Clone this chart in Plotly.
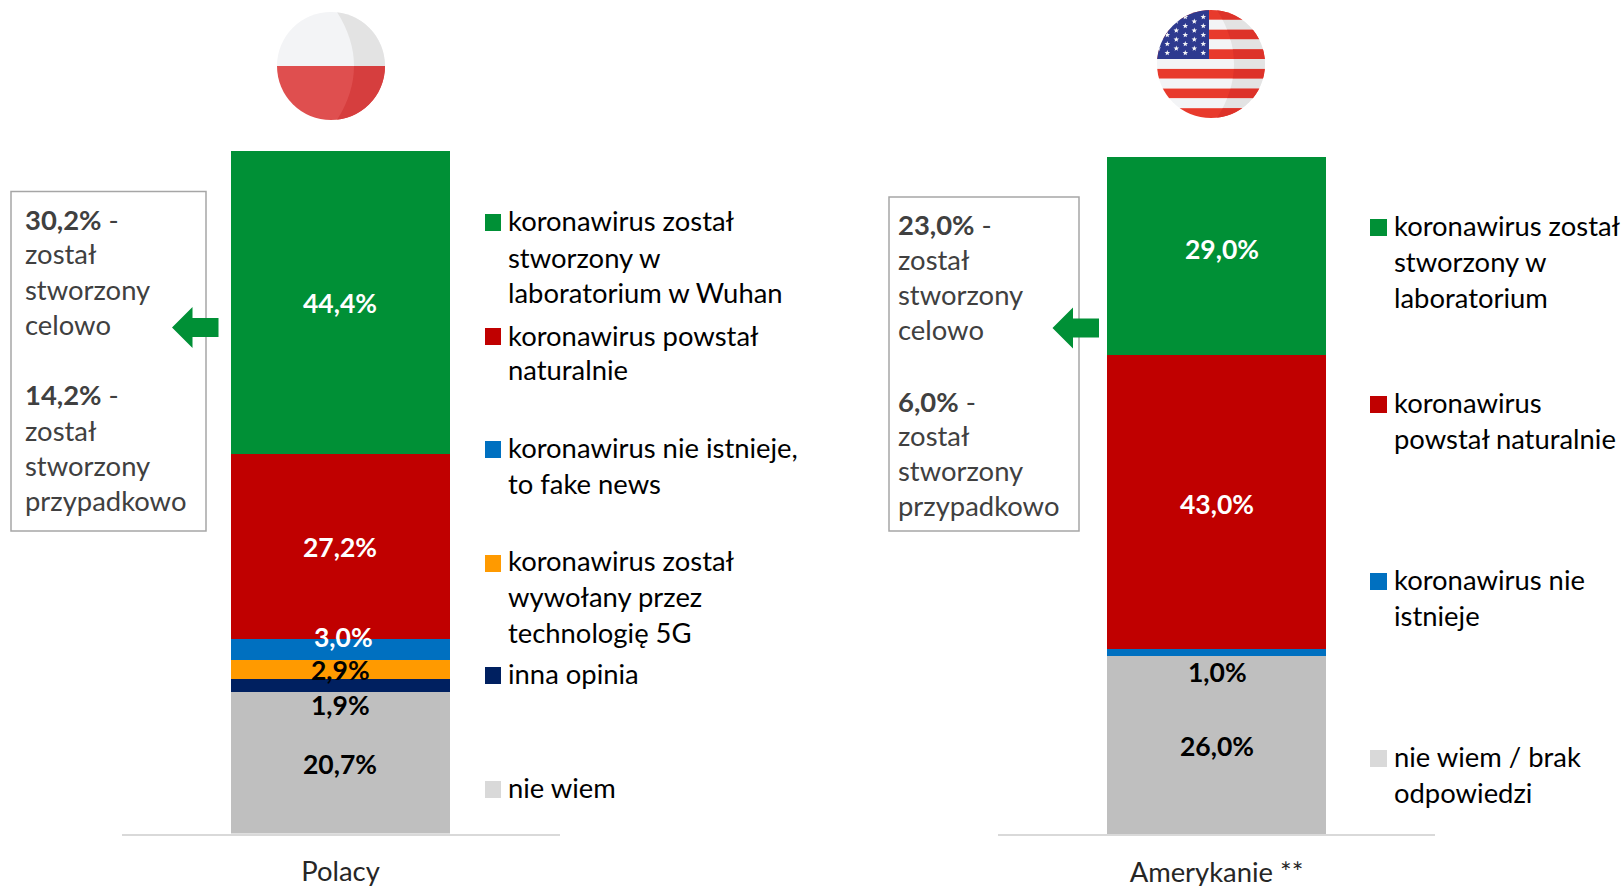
import base64
import math
import plotly.graph_objects as go

W, H = 1623, 886

SERIES_NAMES = ["koronawirus stworzony", "koronawirus naturalny", "koronawirus nie istnieje",
                "technologia 5G", "inna opinia", "nie wiem"]
COLORS = ["#009036", "#C00000", "#0070C0", "#FF9A00", "#002060", "#BFBFBF"]
POLACY = [44.4, 27.2, 3.0, 2.9, 1.9, 20.7]
AMERYKANIE = [29.0, 43.0, 1.0, None, None, 26.0]
CATEGORIES = ["Polacy", "Amerykanie **"]

FONT = "Lato"
LEG_SIZE = 27.4
LAB_SIZE = 26.5
TEXT_LIFT = 1.5


def px(x):
    return x / W


def py(y):
    return 1 - y / H


def fmt(v):
    return f"{v:.1f}".replace(".", ",") + "%"


fig = go.Figure()
for vals, cat, xa, ya in ((POLACY, CATEGORIES[0], "x", "y"), (AMERYKANIE, CATEGORIES[1], "x2", "y2")):
    for i in range(len(vals) - 1, -1, -1):
        if vals[i] is None:
            continue
        fig.add_bar(x=[cat], y=[vals[i]], name=SERIES_NAMES[i], marker=dict(color=COLORS[i], line_width=0),
                    xaxis=xa, yaxis=ya, showlegend=False)

annotations = []


def label(text, x, y, size=LEG_SIZE, color="#000000", bold=False, anchor="left"):
    annotations.append(dict(text=f"<b>{text}</b>" if bold else text, x=px(x), y=py(y - TEXT_LIFT), xref="paper", yref="paper",
                            xanchor=anchor, yanchor="middle", showarrow=False,
                            font=dict(family=FONT, size=size, color=color)))


# data labels (offset like the reference)
LAB_POS_L = [(340, 304), (340, 548), (343, 638), (340, 671), (340, 706), (340, 765)]
LAB_COL_L = ["#FFFFFF", "#FFFFFF", "#FFFFFF", "#000000", "#000000", "#000000"]
for v, (x, y), c in zip(POLACY, LAB_POS_L, LAB_COL_L):
    label(fmt(v), x, y, LAB_SIZE, c, True, "center")
LAB_R = [(29.0, 1222, 250, "#FFFFFF"), (43.0, 1217, 505.5, "#FFFFFF"), (1.0, 1217, 673, "#000000"), (26.0, 1217, 747, "#000000")]
for v, x, y, c in LAB_R:
    label(fmt(v), x, y, LAB_SIZE, c, True, "center")

# legends
LEG_L = [
    ("#009036", 214, ["koronawirus został", "stworzony w", "laboratorium w Wuhan"], [222.5, 258.5, 294]),
    ("#C00000", 328, ["koronawirus powstał", "naturalnie"], [336.5, 370.5]),
    ("#0070C0", 441, ["koronawirus nie istnieje,", "to fake news"], [449, 485]),
    ("#FF9A00", 555, ["koronawirus został", "wywołany przez", "technologię 5G"], [562, 598, 633.5]),
    ("#002060", 667, ["inna opinia"], [675]),
    ("#D9D9D9", 781, ["nie wiem"], [789]),
]
LEG_R = [
    ("#009036", 219, ["koronawirus został", "stworzony w", "laboratorium"], [227, 263, 299]),
    ("#C00000", 396, ["koronawirus", "powstał naturalnie"], [404, 440]),
    ("#0070C0", 573, ["koronawirus nie", "istnieje"], [581, 617]),
    ("#D9D9D9", 750, ["nie wiem / brak", "odpowiedzi"], [758, 794]),
]
shapes = []


def rect(x0, y0, x1, y1, fill=None, line=None, lw=0):
    shapes.append(dict(type="rect", xref="paper", yref="paper", x0=px(x0), x1=px(x1), y0=py(y0), y1=py(y1),
                       fillcolor=fill or "rgba(0,0,0,0)", line=dict(color=line or "rgba(0,0,0,0)", width=lw), layer="above"))


for leg, sx0, sx1, tx in ((LEG_L, 485, 501, 505.5), (LEG_R, 1370, 1387, 1392)):
    for col, sy, lines, ys in leg:
        rect(sx0, sy, sx1, sy + 17, col)
        for t, y in zip(lines, ys):
            label(t, tx, y)

# callout boxes
rect(11, 191.5, 206, 531, "#FFFFFF", "#A6A6A6", 1.5)
rect(889, 197, 1079, 531, "#FFFFFF", "#A6A6A6", 1.5)
BOX_TEXT_L = [("<b>30,2%</b> -", 220.5), ("został", 255.5), ("stworzony", 291), ("celowo", 326),
              ("<b>14,2%</b> -", 396.5), ("został", 431.5), ("stworzony", 467), ("przypadkowo", 502)]
BOX_TEXT_R = [("<b>23,0%</b> -", 225.5), ("został", 261), ("stworzony", 296), ("celowo", 331),
              ("<b>6,0%</b> -", 402.5), ("został", 437), ("stworzony", 472), ("przypadkowo", 507)]
for t, y in BOX_TEXT_L:
    label(t, 23, y, color="#404040")
for t, y in BOX_TEXT_R:
    label(t, 896, y, color="#404040")


# arrows
def arrow(tip, back, end, cy):
    pts = [(tip, cy), (back, cy - 20.5), (back, cy - 9.5), (end, cy - 9.5), (end, cy + 9.5), (back, cy + 9.5), (back, cy + 20.5)]
    path = "M" + " L".join(f"{px(a):.5f},{py(b):.5f}" for a, b in pts) + " Z"
    shapes.append(dict(type="path", path=path, xref="paper", yref="paper", fillcolor="#009036", line_width=0, layer="above"))


arrow(172, 192.5, 218.5, 327.5)
arrow(1052.5, 1073, 1099, 328)


# flags as inline SVG images
def star(cx, cy, r):
    pts = []
    for k in range(10):
        rr = r if k % 2 == 0 else r * 0.42
        a = -math.pi / 2 + k * math.pi / 5
        pts.append(f"{cx + rr * math.cos(a):.2f},{cy + rr * math.sin(a):.2f}")
    return f'<polygon points="{" ".join(pts)}" fill="#F3F4F6"/>'


CRESCENT = "M60 0 Q77 27 77 54 Q77 81 60 108 L108 108 L108 0 Z"
DEFS = ('<defs><clipPath id="c"><circle cx="54" cy="54" r="54"/></clipPath>'
        f'<clipPath id="s"><path d="{CRESCENT}"/></clipPath></defs>')

poland = ('<svg xmlns="http://www.w3.org/2000/svg" width="108" height="108" viewBox="0 0 108 108">'
          + DEFS + '<g clip-path="url(#c)">'
          '<rect width="108" height="54" fill="#F3F4F6"/><rect y="54" width="108" height="54" fill="#DF4F4F"/>'
          '<g clip-path="url(#s)"><rect width="108" height="54" fill="#E3E3E3"/><rect y="54" width="108" height="54" fill="#D63E3E"/></g>'
          '</g></svg>')

band = 108 / 11
stripes = "".join(f'<rect y="{i * band:.2f}" width="108" height="{band:.2f}" fill="{"#E83A2C" if i % 2 == 0 else "#F3F4F6"}"/>' for i in range(11))
shade = "".join(f'<rect y="{i * band:.2f}" width="108" height="{band:.2f}" fill="{"#DD3229" if i % 2 == 0 else "#E3E3E3"}"/>' for i in range(11))
stars = ""
for r in range(9):
    for c in range(6):
        if (r + c) % 2 == 0:
            stars += star(46.3 - c * 9.0, 7 + r * 4.5, 2.9)
usa = ('<svg xmlns="http://www.w3.org/2000/svg" width="108" height="108" viewBox="0 0 108 108">'
       + DEFS + '<g clip-path="url(#c)">' + stripes + '<g clip-path="url(#s)">' + shade + '</g>'
       '<rect width="52" height="49" fill="#2E3A8F"/>' + stars + '</g></svg>')


def uri(svg):
    return "data:image/svg+xml;base64," + base64.b64encode(svg.encode()).decode()


images = [
    dict(source=uri(poland), xref="paper", yref="paper", x=px(277), y=py(12), sizex=px(108), sizey=108 / H,
         xanchor="left", yanchor="top", sizing="stretch", layer="above"),
    dict(source=uri(usa), xref="paper", yref="paper", x=px(1157), y=py(10), sizex=px(108), sizey=108 / H,
         xanchor="left", yanchor="top", sizing="stretch", layer="above"),
]

axis_x = dict(type="category", range=[-0.5, 0.5], showline=True, linecolor="#D9D9D9", linewidth=2, showgrid=False,
              automargin=False, ticks="outside", ticklen=13, tickcolor="rgba(0,0,0,0)",
              tickfont=dict(family=FONT, size=LEG_SIZE, color="#262626"))
axis_y = dict(visible=False, showgrid=False, zeroline=False, automargin=False)

fig.update_layout(
    width=W, height=H, margin=dict(l=0, r=0, t=0, b=0), barmode="stack", bargap=0.5,
    paper_bgcolor="#FFFFFF", plot_bgcolor="#FFFFFF", showlegend=False,
    xaxis=dict(axis_x, domain=[px(121.5), px(559.5)], anchor="y"),
    yaxis=dict(axis_y, domain=[py(833.5), py(151)], range=[0, sum(POLACY)], anchor="x"),
    xaxis2=dict(axis_x, domain=[px(998), px(1435)], anchor="y2"),
    yaxis2=dict(axis_y, domain=[py(834), py(157)], range=[0, sum(v for v in AMERYKANIE if v)], anchor="x2"),
    annotations=annotations, shapes=shapes, images=images,
)

fig.write_html("out.html", config=dict(displayModeBar=False),
               post_script="document.body.style.margin='0';document.body.style.overflow='hidden';")
